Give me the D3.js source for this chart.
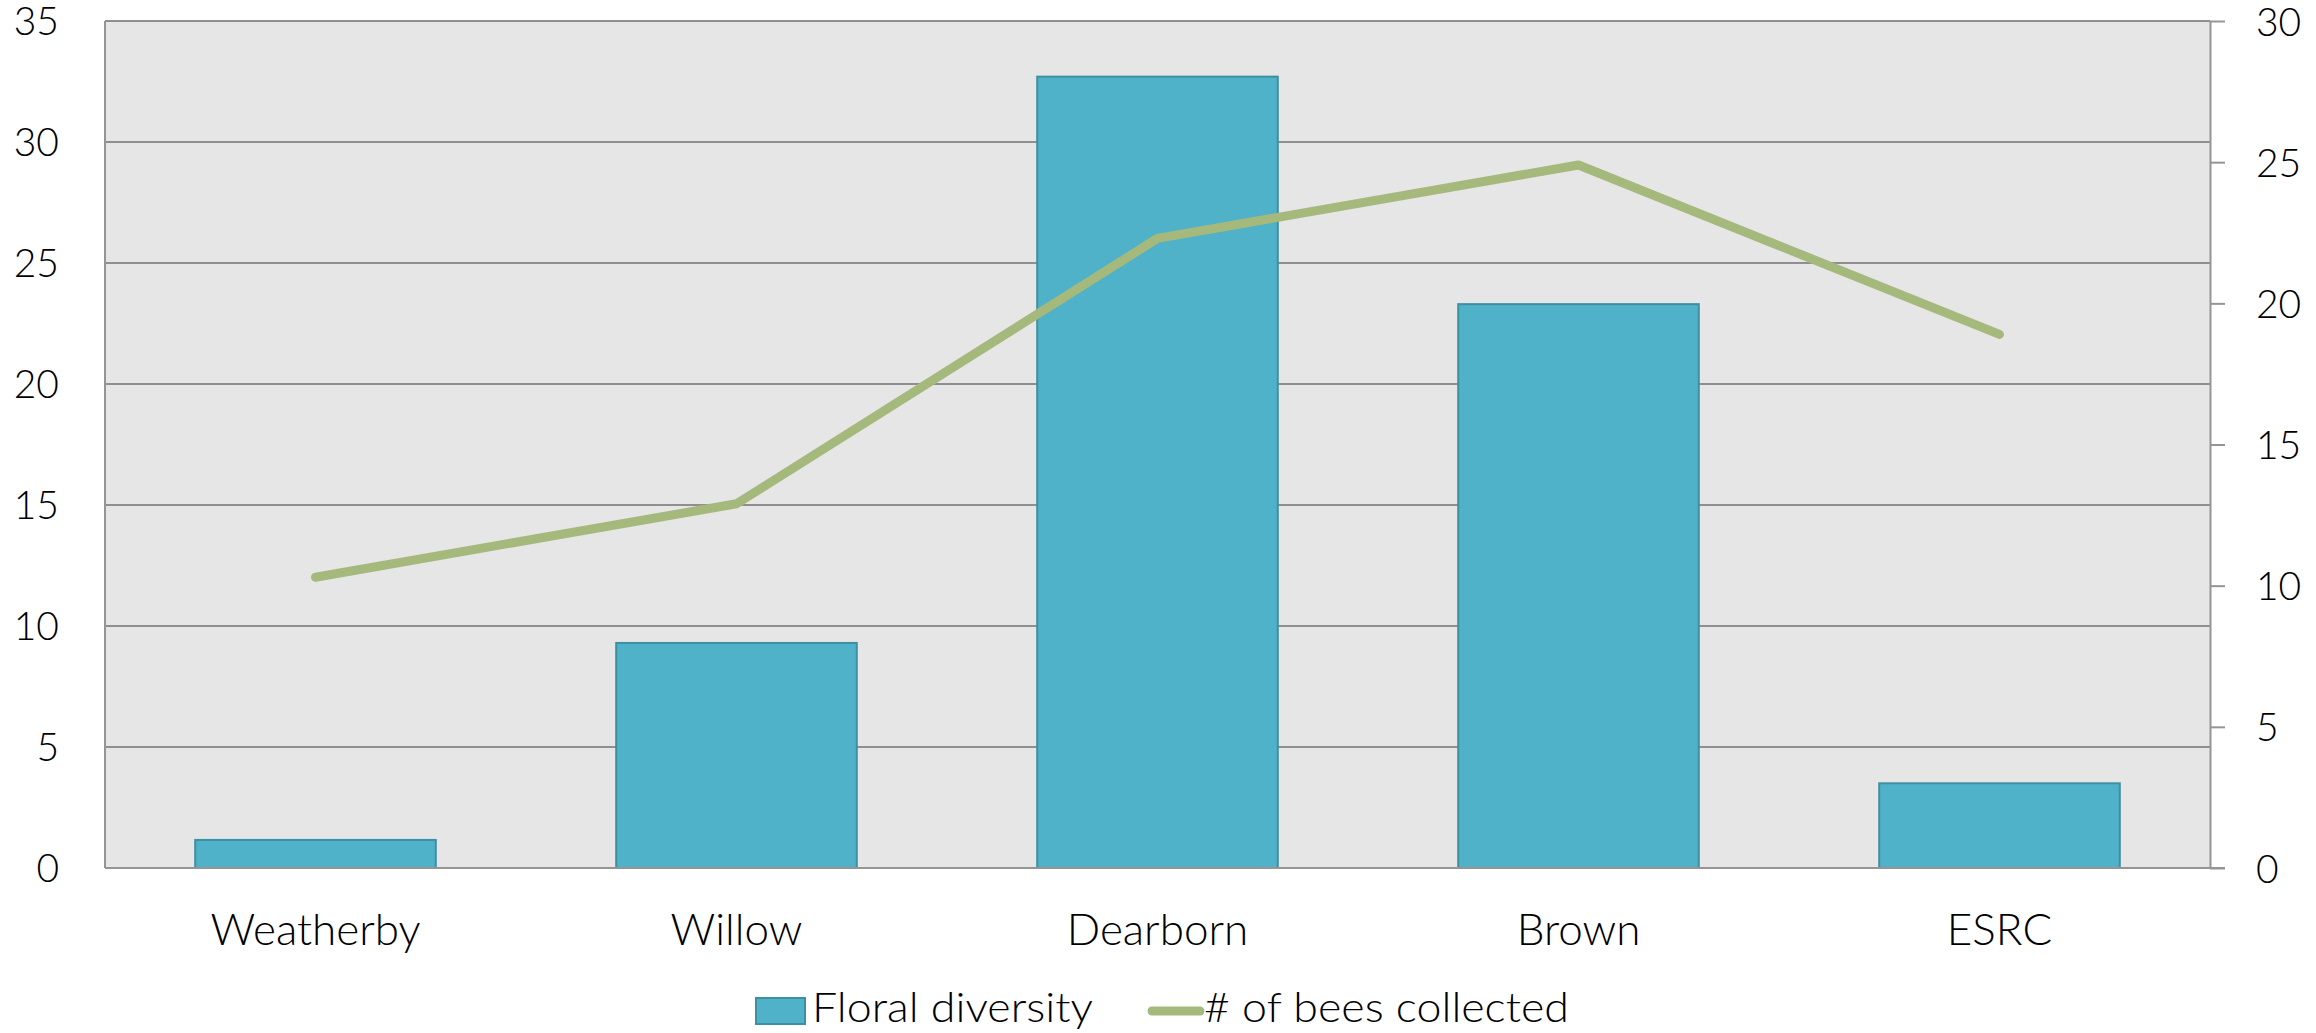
<!DOCTYPE html>
<html>
<head>
<meta charset="utf-8">
<script src="https://cdn.jsdelivr.net/npm/d3@7"></script>
<style>
  html, body { margin: 0; padding: 0; background: #fff; }
  svg { display: block; }
  text { font-family: Lato, "Open Sans", sans-serif; font-weight: 300; fill: #000; }
</style>
</head>
<body>
<svg id="chart" width="2316" height="1033"></svg>
<script>
// Sites along the x axis
const sites = ["Weatherby", "Willow", "Dearborn", "Brown", "ESRC"];
// Floral diversity per site (left axis)
const floralDiversity = [1.16, 9.3, 32.7, 23.3, 3.5];
// Number of bees collected per site (right axis)
const beesCollected = [10.3, 12.9, 22.3, 24.9, 18.9];
// Axis ticks
const leftTicks = [0, 5, 10, 15, 20, 25, 30, 35];
const rightTicks = [0, 5, 10, 15, 20, 25, 30];
const legendLabels = ["Floral diversity", "# of bees collected"];

const svg = d3.select("#chart");
const plot = { left: 105, right: 2210, top: 21, bottom: 868 };

const x = d3.scaleBand().domain(sites).range([plot.left, plot.right])
  .paddingInner(0.75 / 1.75).paddingOuter(0.75 / 3.5);
const yL = d3.scaleLinear().domain([0, 35]).range([plot.bottom, plot.top]);
const yR = d3.scaleLinear().domain([0, 30]).range([plot.bottom, plot.top]);

// Plot background
svg.append("rect")
  .attr("x", plot.left).attr("y", plot.top)
  .attr("width", plot.right - plot.left).attr("height", plot.bottom - plot.top)
  .attr("fill", "#e6e6e6");

// Horizontal gridlines from the left scale
svg.append("g").selectAll("line").data(leftTicks.filter(d => d > 0)).join("line")
  .attr("x1", plot.left).attr("x2", plot.right)
  .attr("y1", d => yL(d)).attr("y2", d => yL(d))
  .attr("stroke", "#8f8f8f").attr("stroke-width", 2);

// Bars
svg.append("g").selectAll("rect").data(sites).join("rect")
  .attr("x", d => x(d))
  .attr("width", x.bandwidth())
  .attr("y", (d, i) => yL(floralDiversity[i]))
  .attr("height", (d, i) => yL(0) - yL(floralDiversity[i]))
  .attr("fill", "#4fb2c8")
  .attr("stroke", "#3d8fa2").attr("stroke-width", 2);

// Left axis line
svg.append("line")
  .attr("x1", plot.left).attr("x2", plot.left)
  .attr("y1", plot.top).attr("y2", plot.bottom)
  .attr("stroke", "#959595").attr("stroke-width", 2);

// Right axis with outward ticks
const rAxis = svg.append("g").attr("transform", `translate(${plot.right},0)`)
  .call(d3.axisRight(yR).tickValues(rightTicks).tickSize(15).tickPadding(31).tickSizeOuter(0));
rAxis.select(".domain").attr("stroke", "#959595").attr("stroke-width", 2);
rAxis.selectAll(".tick line").attr("stroke", "#959595").attr("stroke-width", 2);
rAxis.selectAll(".tick text")
  .attr("font-size", 39).attr("font-family", null).attr("fill", "#000")
  .attr("dy", "0.36em");

// Bottom axis line, extended to the right tick length
svg.append("line")
  .attr("x1", plot.left).attr("x2", plot.right + 15)
  .attr("y1", plot.bottom).attr("y2", plot.bottom)
  .attr("stroke", "#959595").attr("stroke-width", 2);

// Left tick labels
svg.append("g").selectAll("text").data(leftTicks).join("text")
  .attr("x", 59).attr("y", d => yL(d)).attr("dy", "0.36em")
  .attr("text-anchor", "end").attr("font-size", 39)
  .text(d => d);

// Category labels
svg.append("g").selectAll("text").data(sites).join("text")
  .attr("x", d => x(d) + x.bandwidth() / 2).attr("y", 945)
  .attr("text-anchor", "middle").attr("font-size", 44)
  .text(d => d);

// Bees line
const line = d3.line()
  .x((d, i) => x(sites[i]) + x.bandwidth() / 2)
  .y(d => yR(d));
svg.append("path").datum(beesCollected)
  .attr("d", line)
  .attr("fill", "none").attr("stroke", "#a6b97d")
  .attr("stroke-width", 9).attr("stroke-linecap", "round").attr("stroke-linejoin", "round");

// Legend
const lg = svg.append("g");
lg.append("rect").attr("x", 756).attr("y", 998).attr("width", 49).attr("height", 26)
  .attr("fill", "#4fb2c8").attr("stroke", "#3d8fa2").attr("stroke-width", 2);
lg.append("text").attr("x", 812).attr("y", 1022).attr("font-size", 42)
  .attr("textLength", 281).attr("lengthAdjust", "spacingAndGlyphs")
  .text(legendLabels[0]);
lg.append("line").attr("x1", 1152).attr("x2", 1200).attr("y1", 1011).attr("y2", 1011)
  .attr("stroke", "#a6b97d").attr("stroke-width", 9).attr("stroke-linecap", "round");
lg.append("text").attr("x", 1204).attr("y", 1022).attr("font-size", 42)
  .attr("textLength", 365).attr("lengthAdjust", "spacingAndGlyphs")
  .text(legendLabels[1]);
</script>
</body>
</html>
